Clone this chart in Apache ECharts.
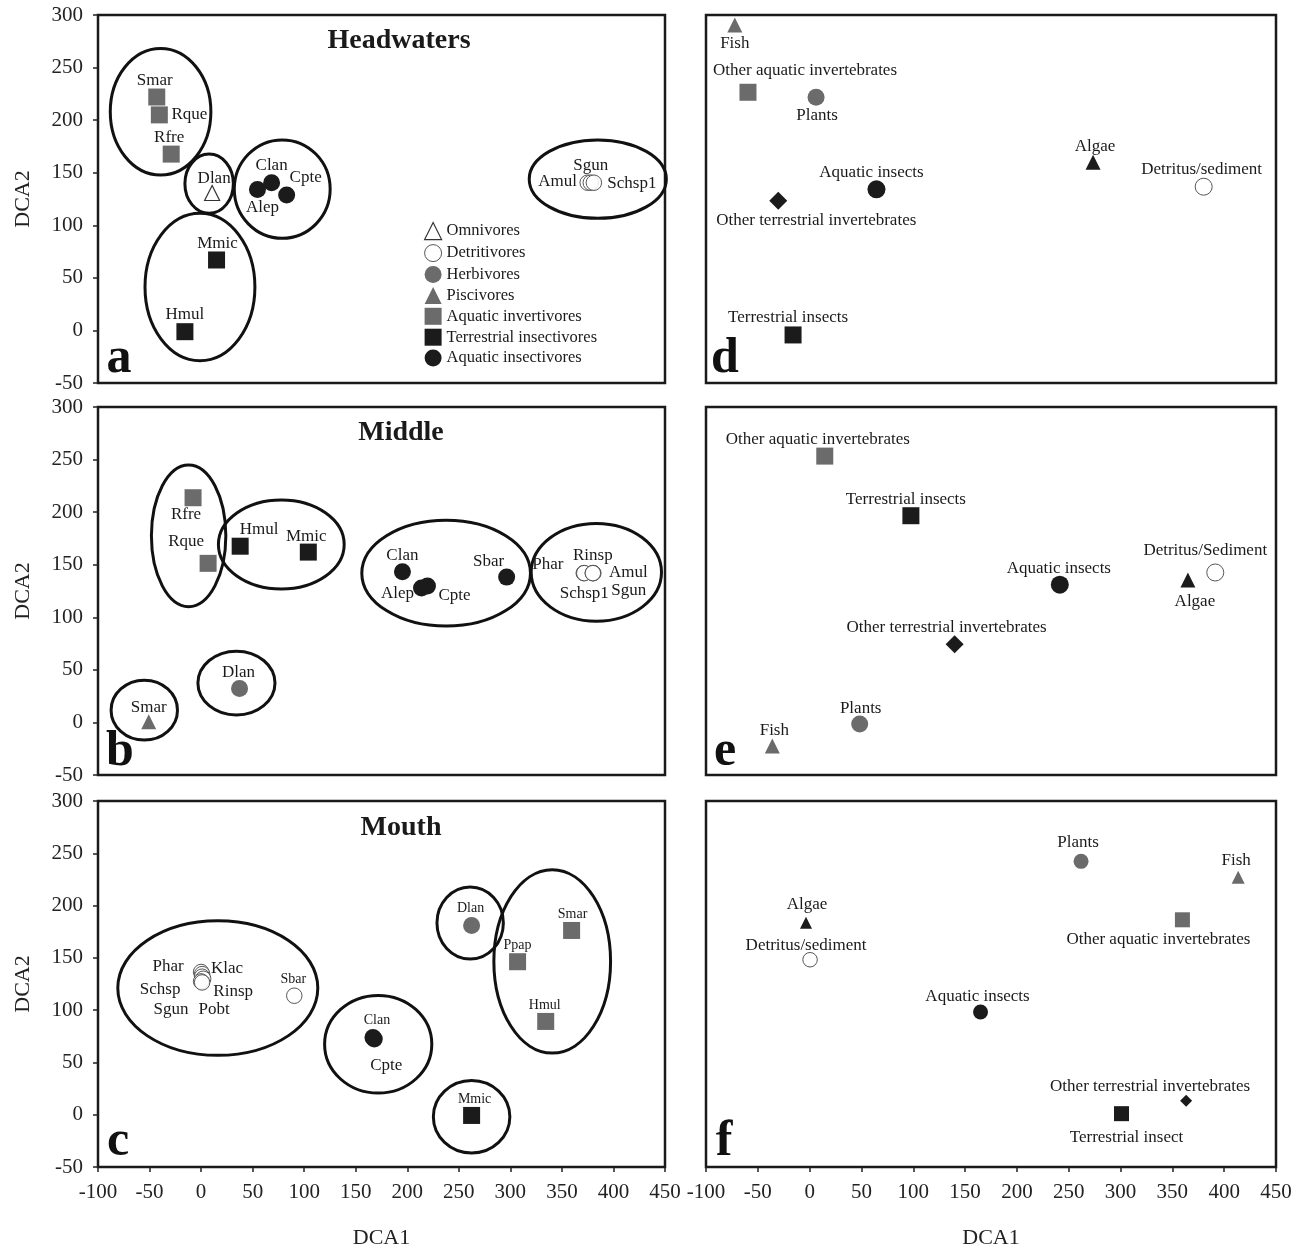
<!DOCTYPE html>
<html><head><meta charset="utf-8">
<script src="https://cdn.jsdelivr.net/npm/echarts@6/dist/echarts.min.js"></script>
<style>html,body{margin:0;padding:0;background:#fff}#chart{width:1305px;height:1253px}</style>
</head><body><div id="chart"></div>
<script>
// ================= DATA =================
// Panel a: Headwaters (fish species, DCA scores)
const hwSpecies = ['Smar','Rque','Rfre','Dlan','Alep','Clan','Cpte','Mmic','Hmul','Amul','Sgun','Schsp1'];
const hwGroup = ['Aquatic invertivores','Aquatic invertivores','Aquatic invertivores','Omnivores',
  'Aquatic insectivores','Aquatic insectivores','Aquatic insectivores',
  'Terrestrial insectivores','Terrestrial insectivores','Detritivores','Detritivores','Detritivores'];
const hwDCA1 = [-43, -40.5, -29, 10.7, 54.7, 68.4, 83, 15, -15.7, 375, 378, 381];
const hwDCA2 = [222, 205, 167.7, 130.7, 134, 140.5, 128.8, 67, -1.2, 140.5, 140.5, 140.5];
// ellipses: [centre DCA1, centre DCA2, radius DCA1, radius DCA2]
const hwEllipses = [[-39.3,208,48.8,60.2],[7.8,139.6,23.5,28.2],[78.7,134.4,46.5,46.8],[-1.1,41.3,53.3,70.1],[384.8,143.9,66.5,37.3]];

// Panel b: Middle
const midSpecies = ['Rfre','Rque','Hmul','Mmic','Clan','Alep','Cpte','Sbar','Phar','Schsp1','Rinsp','Amul','Sgun','Dlan','Smar'];
const midGroup = ['Aquatic invertivores','Aquatic invertivores','Terrestrial insectivores','Terrestrial insectivores',
  'Aquatic insectivores','Aquatic insectivores','Aquatic insectivores','Aquatic insectivores',
  'Detritivores','Detritivores','Detritivores','Detritivores','Detritivores','Herbivores','Piscivores'];
const midDCA1 = [-7.8, 6.8, 37.9, 104, 195.3, 213.8, 219.6, 296.4, 371.2, 371.7, 380, 380.5, 380, 37.3, -50.8];
const midDCA2 = [213.7, 151.3, 167.6, 162, 143.3, 127.8, 129.7, 138.2, 142, 142, 142, 142, 142, 32.3, 0.6];
const midEllipses = [[-12.1,177.5,36.1,67.4],[77.8,169.2,61,42.3],[237.7,142,81.8,50.4],[383.4,142.8,63.2,46.5],[34.3,37.4,37.4,30.4],[-55.1,11.7,32.2,28.5]];

// Panel c: Mouth
const mouthSpecies = ['Phar','Klac','Schsp','Rinsp','Sgun','Pobt','Sbar','Clan','Cpte','Dlan','Ppap','Smar','Hmul','Mmic'];
const mouthGroup = ['Detritivores','Detritivores','Detritivores','Detritivores','Detritivores','Detritivores','Detritivores',
  'Aquatic insectivores','Aquatic insectivores','Herbivores','Aquatic invertivores','Aquatic invertivores','Aquatic invertivores','Terrestrial insectivores'];
const mouthDCA1 = [0, 1, 1, 2, 0, 1, 90.4, 166.7, 168, 262.4, 307, 359.4, 334.3, 262.4];
const mouthDCA2 = [136.5, 134.5, 132, 130, 127.5, 126.5, 113.8, 73.9, 72.5, 181, 146.3, 176.2, 89.2, -0.7];
const mouthEllipses = [[16.2,121.1,97,64.3],[171.8,67.4,52,46.7],[261,183.3,32.2,34.4],[340.6,146.6,56.6,87.7],[262.4,-1.9,37.1,34.7]];

// Panels d-f: food items
const foodCats = ['Fish','Other aquatic invertebrates','Plants','Aquatic insects','Other terrestrial invertebrates','Algae','Detritus/sediment','Terrestrial insects'];
const foodLabelsD = ['Fish','Other aquatic invertebrates','Plants','Aquatic insects','Other terrestrial invertebrates','Algae','Detritus/sediment','Terrestrial insects'];
const foodLabelsE = ['Fish','Other aquatic invertebrates','Plants','Aquatic insects','Other terrestrial invertebrates','Algae','Detritus/Sediment','Terrestrial insects'];
const foodLabelsF = ['Fish','Other aquatic invertebrates','Plants','Aquatic insects','Other terrestrial invertebrates','Algae','Detritus/sediment','Terrestrial insect'];
const foodD_DCA1 = [-72.2, -59.5, 6.2, 64.5, -30.3, 273.5, 380.2, -16];
const foodD_DCA2 = [290.6, 226.5, 221.8, 134.2, 123.4, 160, 136.7, -4.3];
const foodE_DCA1 = [-36, 14.6, 48.3, 241.4, 139.9, 365, 391.4, 97.7];
const foodE_DCA2 = [-22.3, 253.3, -1.6, 131, 74.4, 135.5, 142.6, 196.6];
const foodF_DCA1 = [413.5, 359.7, 261.9, 164.9, 363.3, -3.5, 0.4, 300.9];
const foodF_DCA2 = [227, 186.4, 242.3, 98.2, 13.4, 183.6, 148.2, 1];

const xTicks = {min: -100, max: 450, step: 50};
const yTicks = {min: -50, max: 300, step: 50};

// ================= STYLE =================
const FONT = 'Liberation Serif';
const GRAY = '#6b6b6b', BLACK = '#1b1b1b';
const GS = {
  'Omnivores': {symbol:'triangle', color:'#fff', border:'#333', bw:1.2, size:15},
  'Detritivores': {symbol:'circle', color:'rgba(255,255,255,0.85)', border:'#555', bw:1, size:15.5},
  'Herbivores': {symbol:'circle', color:GRAY, size:17},
  'Piscivores': {symbol:'triangle', color:GRAY, size:15},
  'Aquatic invertivores': {symbol:'rect', color:GRAY, size:17},
  'Terrestrial insectivores': {symbol:'rect', color:BLACK, size:17},
  'Aquatic insectivores': {symbol:'circle', color:BLACK, size:17}
};
const FS = {
  'Fish': {symbol:'triangle', color:GRAY},
  'Other aquatic invertebrates': {symbol:'rect', color:GRAY},
  'Plants': {symbol:'circle', color:GRAY},
  'Aquatic insects': {symbol:'circle', color:BLACK},
  'Other terrestrial invertebrates': {symbol:'diamond', color:BLACK},
  'Algae': {symbol:'triangle', color:BLACK},
  'Detritus/sediment': {symbol:'circle', color:'#fff', border:'#555', bw:1},
  'Terrestrial insects': {symbol:'rect', color:BLACK}
};
const foodSizes = [
  [15, 17, 17, 18, 18, 15, 17, 17],
  [15, 17, 17, 18, 18, 15, 17, 17],
  [13, 15, 15, 15, 12, 12, 14.5, 15]
];
// label offsets (label centre relative to marker centre, px)
const labOff = [
  {Smar:[-2,-16],Rque:[30,0],Rfre:[-2,-17],Dlan:[2,-14],Alep:[5,18],Clan:[0,-17],Cpte:[19,-17],Mmic:[1,-16],Hmul:[0,-17],Amul:[-30,-1],Sgun:[0,-17],Schsp1:[38,1]},
  {Rfre:[-7,17],Rque:[-22,-22],Hmul:[19,-17],Mmic:[-2,-16],Clan:[0,-16],Alep:[-24,5],Cpte:[27,9],Sbar:[-18,-16],Phar:[-36,-9],Schsp1:[0,20],Rinsp:[0,-18],Amul:[35,-1],Sgun:[36,17],Dlan:[-1,-16],Smar:[0,-14]},
  {Phar:[-33,-5],Klac:[25,-6],Schsp:[-42,13],Rinsp:[30,13],Sgun:[-30,28],Pobt:[12,27],Sbar:[-1,-16],Clan:[4,-17],Cpte:[12,27],Dlan:[-1,-17],Ppap:[0,-16],Smar:[1,-16],Hmul:[-1,-16],Mmic:[3,-16]}
];
const smallLabels = [[],[],['Sbar','Clan','Dlan','Ppap','Smar','Hmul','Mmic']];
const foodOff = [
  [[0,19],[57,-22],[1,18],[-5,-17],[38,20],[2,-16],[-2,-17],[-5,-17]],
  [[2,-15],[-7,-17],[1,-16],[-1,-16],[-8,-17],[7,22],[-10,-22],[-5,-16]],
  [[-2,-17],[-24,20],[-3,-19],[-3,-15],[-36,-14],[1,-18],[-4,-14],[5,24]]
];

const GRIDS = [
  {left:98, top:15, width:567, height:368},
  {left:98, top:407, width:567, height:368},
  {left:98, top:801, width:567, height:366},
  {left:706, top:15, width:570, height:368},
  {left:706, top:407, width:570, height:368},
  {left:706, top:801, width:570, height:366}
];

const grid = GRIDS.map(g => Object.assign({show:true, borderColor:'#1a1a1a', borderWidth:2.5, backgroundColor:'transparent'}, g));

const xAxis = GRIDS.map((g, i) => {
  const bottom = (i === 2 || i === 5);
  return {
    type:'value', gridIndex:i, position:'bottom', min:xTicks.min, max:xTicks.max, interval:xTicks.step,
    splitLine:{show:false}, axisLine:{show:false, onZero:false},
    axisTick:{show:bottom, length:5, lineStyle:{color:'#222', width:1.5}},
    axisLabel:{show:bottom, fontFamily:FONT, fontSize:21, color:'#222', margin:15},
    name: bottom ? 'DCA1' : '', nameLocation:'middle', nameGap:60,
    nameTextStyle:{fontFamily:FONT, fontSize:22, color:'#222'}
  };
});
const yAxis = GRIDS.map((g, i) => {
  const left = i < 3;
  return {
    type:'value', gridIndex:i, position:'left', min:yTicks.min, max:yTicks.max, interval:yTicks.step,
    splitLine:{show:false}, axisLine:{show:false, onZero:false},
    axisTick:{show:left, length:5, lineStyle:{color:'#222', width:1.5}},
    axisLabel:{show:left, fontFamily:FONT, fontSize:21, color:'#222', margin:15},
    name: left ? 'DCA2' : '', nameLocation:'middle', nameRotate:90, nameGap:64,
    nameTextStyle:{fontFamily:FONT, fontSize:22, color:'#222'}
  };
});

function ellipseSeries(panel, ells) {
  return {
    type:'custom', xAxisIndex:panel, yAxisIndex:panel, z:1, silent:true, clip:false,
    encode:{x:0, y:1},
    renderItem: (params, api) => {
      const c = api.coord([api.value(0), api.value(1)]);
      const s = api.size([api.value(2), api.value(3)]);
      return {type:'ellipse', shape:{cx:c[0], cy:c[1], rx:s[0], ry:s[1]},
        style:{fill:null, stroke:'#111', lineWidth:3}};
    },
    data: ells
  };
}

function speciesSeries(panel, names, groups, xs, ys) {
  const byGroup = {};
  names.forEach((n, i) => {
    const g = groups[i];
    (byGroup[g] = byGroup[g] || []).push({
      name:n, value:[xs[i], ys[i]],
      label:{offset:labOff[panel][n], fontSize: smallLabels[panel].includes(n) ? 14 : 17}
    });
  });
  return Object.keys(byGroup).map(g => {
    const st = GS[g];
    return {
      type:'scatter', name:g, xAxisIndex:panel, yAxisIndex:panel, z:3, silent:true,
      symbol:st.symbol, symbolSize:st.size,
      itemStyle:{color:st.color, borderColor:st.border || st.color, borderWidth:st.bw || 0, opacity:1},
      label:{show:true, position:'inside', formatter:'{b}', color:'#1a1a1a', fontFamily:FONT, fontSize:17},
      emphasis:{disabled:true},
      data: byGroup[g]
    };
  });
}

function foodSeries(k, labels, xs, ys) {
  const panel = 3 + k;
  return foodCats.map((c, i) => {
    const st = FS[c];
    return {
      type:'scatter', name:c, xAxisIndex:panel, yAxisIndex:panel, z:3, silent:true,
      symbol:st.symbol, symbolSize:foodSizes[k][i],
      itemStyle:{color:st.color, borderColor:st.border || st.color, borderWidth:st.bw || 0, opacity:1},
      label:{show:true, position:'inside', formatter:'{b}', color:'#1a1a1a', fontFamily:FONT, fontSize:17, offset:foodOff[k][i]},
      emphasis:{disabled:true},
      data:[{name:labels[i], value:[xs[i], ys[i]]}]
    };
  });
}

const series = [
  ellipseSeries(0, hwEllipses), ellipseSeries(1, midEllipses), ellipseSeries(2, mouthEllipses),
  ...speciesSeries(0, hwSpecies, hwGroup, hwDCA1, hwDCA2),
  ...speciesSeries(1, midSpecies, midGroup, midDCA1, midDCA2),
  ...speciesSeries(2, mouthSpecies, mouthGroup, mouthDCA1, mouthDCA2),
  ...foodSeries(0, foodLabelsD, foodD_DCA1, foodD_DCA2),
  ...foodSeries(1, foodLabelsE, foodE_DCA1, foodE_DCA2),
  ...foodSeries(2, foodLabelsF, foodF_DCA1, foodF_DCA2)
];

const legendOrder = ['Omnivores','Detritivores','Herbivores','Piscivores','Aquatic invertivores','Terrestrial insectivores','Aquatic insectivores'];
const legendIcons = {circle:'circle', rect:'rect', triangle:'triangle'};

const titleText = (t, x, y) => ({type:'text', x, y, style:{text:t, fill:'#1a1a1a', font:'bold 28px "Liberation Serif"', textAlign:'center', textVerticalAlign:'middle'}, z:10});
const letterText = (t, x, y) => ({type:'text', x, y, style:{text:t, fill:'#111', font:'bold 50px "Liberation Serif"', textAlign:'center', textVerticalAlign:'bottom'}, z:10});

const option = {
  animation:false,
  backgroundColor:'#fff',
  grid, xAxis, yAxis, series,
  legend:{
    orient:'vertical', left:419, top:217, itemWidth:17, itemHeight:17, itemGap:3.9,
    selectedMode:false,
    textStyle:{fontFamily:FONT, fontSize:16.5, color:'#1a1a1a'},
    data: legendOrder.map(n => ({
      name:n, icon:legendIcons[GS[n].symbol],
      itemStyle:{color:GS[n].color === 'rgba(255,255,255,0.85)' ? '#fff' : GS[n].color, borderColor:GS[n].border || GS[n].color, borderWidth:GS[n].bw || 0, opacity:1}
    }))
  },
  graphic:[
    titleText('Headwaters', 399, 41), titleText('Middle', 401, 433), titleText('Mouth', 401, 828),
    letterText('a', 119, 384), letterText('b', 120, 777), letterText('c', 118, 1167),
    letterText('d', 725, 384), letterText('e', 725, 777), letterText('f', 724, 1167)
  ]
};

const chart = echarts.init(document.getElementById('chart'), null, {renderer:'canvas'});
chart.setOption(option);
</script>
</body></html>
